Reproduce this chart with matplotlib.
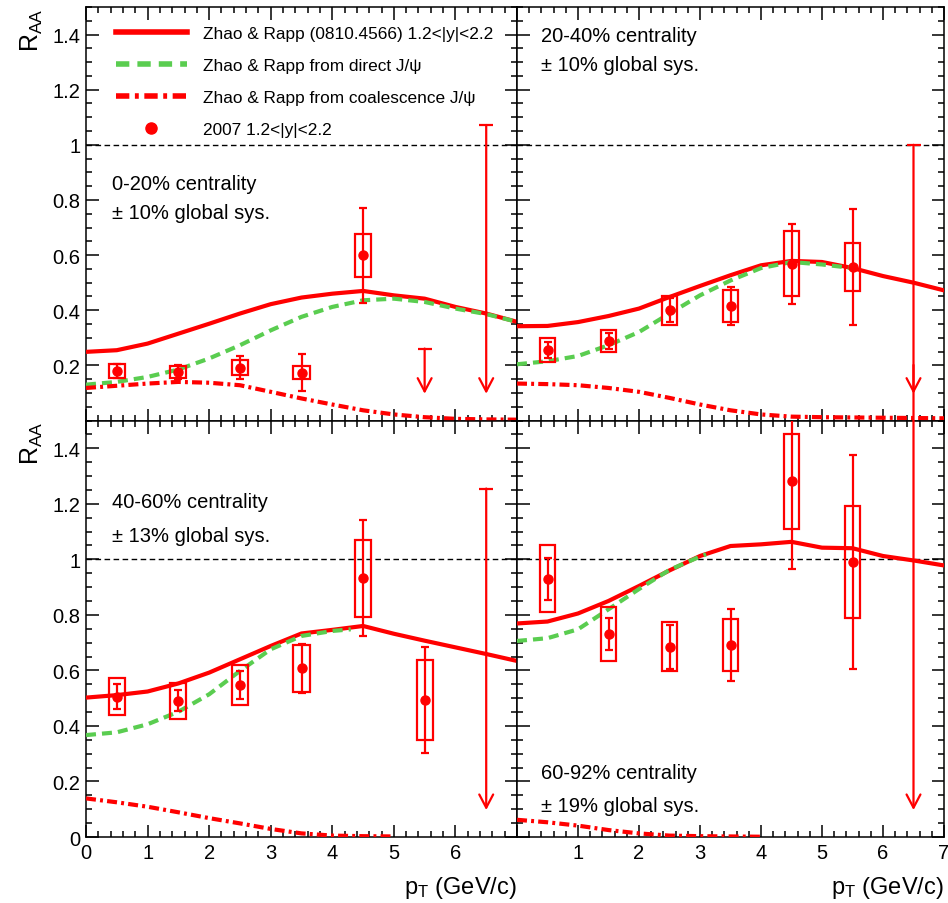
import matplotlib
matplotlib.use("Agg")
import matplotlib.pyplot as plt
from matplotlib.lines import Line2D
from matplotlib.patches import Rectangle
from matplotlib.ticker import MultipleLocator, FuncFormatter

plt.rcParams['font.family'] = ['Liberation Sans', 'DejaVu Sans']
plt.rcParams['mathtext.default'] = 'regular'

RED = '#ff0000'
GREEN = '#5acd50'

# theory grid (GeV/c)
pt_grid = [0, 0.5, 1, 1.5, 2, 2.5, 3, 3.5, 4, 4.5, 5, 5.5, 6, 6.5, 7]
pt_bins = [0.5, 1.5, 2.5, 3.5, 4.5, 5.5]

# 0-20%
total_0_20 = [0.249, 0.255, 0.279, 0.315, 0.351, 0.388, 0.422, 0.446, 0.460, 0.470, 0.454, 0.442, 0.412, 0.388, 0.358]
direct_0_20_pt = pt_grid
direct_0_20 = [0.130, 0.140, 0.158, 0.185, 0.225, 0.273, 0.327, 0.376, 0.412, 0.436, 0.442, 0.430, 0.406, 0.386, 0.358]
coal_0_20_pt = pt_grid
coal_0_20 = [0.118, 0.126, 0.134, 0.140, 0.137, 0.128, 0.104, 0.080, 0.058, 0.037, 0.022, 0.012, 0.006, 0.004, 0.003]
raa_0_20 = [0.180, 0.177, 0.192, 0.174, 0.599]
stat_0_20 = [0.025, 0.025, 0.042, 0.067, 0.171]
sys_0_20 = [0.025, 0.022, 0.027, 0.024, 0.078]
lim_pt_0_20 = [5.5, 6.5]
lim_0_20 = [0.261, 1.072]

# 20-40%
total_20_40 = [0.342, 0.343, 0.357, 0.379, 0.406, 0.448, 0.488, 0.527, 0.563, 0.579, 0.575, 0.553, 0.524, 0.500, 0.472]
direct_20_40_pt = [0, 0.5, 1, 1.5, 2, 2.5, 3, 3.5, 4, 4.5, 5, 5.5]
direct_20_40 = [0.204, 0.215, 0.234, 0.273, 0.321, 0.388, 0.454, 0.508, 0.553, 0.575, 0.566, 0.553]
coal_20_40_pt = pt_grid
coal_20_40 = [0.134, 0.132, 0.128, 0.118, 0.104, 0.082, 0.058, 0.037, 0.022, 0.014, 0.012, 0.011, 0.010, 0.009, 0.008]
raa_20_40 = [0.255, 0.289, 0.400, 0.416, 0.569, 0.557]
stat_20_40 = [0.030, 0.029, 0.044, 0.068, 0.145, 0.210]
sys_20_40 = [0.043, 0.040, 0.052, 0.058, 0.118, 0.088]
lim_pt_20_40 = [6.5]
lim_20_40 = [1.0]

# 40-60%
total_40_60 = [0.502, 0.511, 0.524, 0.553, 0.592, 0.640, 0.688, 0.733, 0.746, 0.760, 0.732, 0.707, 0.683, 0.659, 0.634]
direct_40_60_pt = [0, 0.5, 1, 1.5, 2, 2.5, 3, 3.5, 4, 4.3]
direct_40_60 = [0.367, 0.377, 0.406, 0.451, 0.514, 0.598, 0.676, 0.724, 0.742, 0.748]
coal_40_60_pt = [0, 0.5, 1, 1.5, 2, 2.5, 3, 3.5, 4, 4.5, 5]
coal_40_60 = [0.139, 0.125, 0.109, 0.089, 0.068, 0.049, 0.029, 0.013, 0.005, 0.003, 0.002]
raa_40_60 = [0.505, 0.490, 0.548, 0.607, 0.932, 0.494]
stat_40_60 = [0.045, 0.038, 0.051, 0.088, 0.208, 0.190]
sys_40_60 = [0.067, 0.065, 0.072, 0.084, 0.139, 0.145]
lim_pt_40_60 = [6.5]
lim_40_60 = [1.255]

# 60-92%
total_60_92 = [0.769, 0.776, 0.805, 0.850, 0.904, 0.960, 1.012, 1.048, 1.054, 1.063, 1.042, 1.040, 1.012, 0.996, 0.978]
direct_60_92_pt = [0, 0.5, 1, 1.5, 2, 2.5, 3, 3.1]
direct_60_92 = [0.706, 0.716, 0.748, 0.820, 0.893, 0.962, 1.010, 1.018]
coal_60_92_pt = [0, 0.5, 1, 1.5, 2, 2.5, 3, 3.5, 4]
coal_60_92 = [0.062, 0.053, 0.041, 0.025, 0.013, 0.005, 0.003, 0.002, 0.001]
raa_60_92 = [0.930, 0.730, 0.685, 0.691, 1.282, 0.990]
stat_60_92 = [0.075, 0.057, 0.080, 0.129, 0.318, 0.385]
sys_60_92 = [0.120, 0.097, 0.088, 0.093, 0.171, 0.202]
lim_pt_60_92 = [6.5]
lim_60_92 = [1.7]

limit_floor = 0.097
box_width = 0.26

panels = [
    dict(total=total_0_20, dpt=direct_0_20_pt, direct=direct_0_20, cpt=coal_0_20_pt, coal=coal_0_20,
         raa=raa_0_20, stat=stat_0_20, sys=sys_0_20, lpt=lim_pt_0_20, lim=lim_0_20,
         label=['0-20% centrality', '\u00b1 10% global sys.'], text_xy=(0.06, 0.572, 0.503)),
    dict(total=total_20_40, dpt=direct_20_40_pt, direct=direct_20_40, cpt=coal_20_40_pt, coal=coal_20_40,
         raa=raa_20_40, stat=stat_20_40, sys=sys_20_40, lpt=lim_pt_20_40, lim=lim_20_40,
         label=['20-40% centrality', '\u00b1 10% global sys.'], text_xy=(0.056, 0.932, 0.86)),
    dict(total=total_40_60, dpt=direct_40_60_pt, direct=direct_40_60, cpt=coal_40_60_pt, coal=coal_40_60,
         raa=raa_40_60, stat=stat_40_60, sys=sys_40_60, lpt=lim_pt_40_60, lim=lim_40_60,
         label=['40-60% centrality', '\u00b1 13% global sys.'], text_xy=(0.06, 0.805, 0.724)),
    dict(total=total_60_92, dpt=direct_60_92_pt, direct=direct_60_92, cpt=coal_60_92_pt, coal=coal_60_92,
         raa=raa_60_92, stat=stat_60_92, sys=sys_60_92, lpt=lim_pt_60_92, lim=lim_60_92,
         label=['60-92% centrality', '\u00b1 19% global sys.'], text_xy=(0.056, 0.156, 0.075)),
]

W, H = 948, 904
fig = plt.figure(figsize=(W / 100, H / 100), dpi=100)


def frame(l, r, t, b):
    return [l / W, 1 - b / H, (r - l) / W, (b - t) / H]


rects = [frame(86, 517, 8, 421.5), frame(517, 944, 8, 421.5),
         frame(86, 517, 421.5, 838), frame(517, 944, 421.5, 838)]

dashed = (0, (2.4, 1.45))
dashdot = (0, (2.4, 1.0, 0.7, 1.0))

axes = []
for i, (rect, p) in enumerate(zip(rects, panels)):
    ax = fig.add_axes(rect)
    axes.append(ax)
    ax.set_xlim(0, 7)
    ax.set_ylim(0, 1.5)
    ax.axhline(1, color='k', lw=1.0, ls=(0, (4, 2.5)), zorder=1)

    ax.plot(pt_grid, p['total'], color=RED, lw=3, zorder=3)
    ax.plot(p['dpt'], p['direct'], color=GREEN, lw=3, ls=dashed, zorder=3)
    ax.plot(p['cpt'], p['coal'], color=RED, lw=3, ls=dashdot, zorder=3)

    n = len(p['raa'])
    x = pt_bins[:n]
    for xi, yi, si in zip(x, p['raa'], p['sys']):
        ax.add_patch(Rectangle((xi - box_width / 2, yi - si), box_width, 2 * si,
                               fill=False, ec=RED, lw=1.6, zorder=4))
    ax.errorbar(x, p['raa'], yerr=p['stat'], fmt='o', color=RED, ms=6.5,
                elinewidth=1.6, capsize=3, capthick=1.6, zorder=5)

    for xl, yl in zip(p['lpt'], p['lim']):
        ax.plot([xl], [yl], marker='_', ms=10, mew=1.6, color=RED, zorder=5)
        ax.annotate('', xy=(xl, limit_floor), xytext=(xl, yl),
                    arrowprops=dict(arrowstyle='->,head_length=0.95,head_width=0.5',
                                    color=RED, lw=1.6, shrinkA=0, shrinkB=0,
                                    mutation_scale=10),
                    annotation_clip=False, zorder=5)

    tx, ty1, ty2 = p['text_xy']
    ax.text(tx, ty1, p['label'][0], transform=ax.transAxes, fontsize=14.5, va='center', ha='left')
    ax.text(tx, ty2, p['label'][1], transform=ax.transAxes, fontsize=14.5, va='center', ha='left')

    ax.xaxis.set_major_locator(MultipleLocator(1))
    ax.xaxis.set_minor_locator(MultipleLocator(0.2))
    ax.yaxis.set_major_locator(MultipleLocator(0.2))
    ax.yaxis.set_minor_locator(MultipleLocator(0.05))
    ax.tick_params(which='both', direction='in', top=True, right=True, width=1.1)
    ax.tick_params(which='major', length=9, labelsize=14.5, pad=4)
    ax.tick_params(which='minor', length=4.5)
    for s in ax.spines.values():
        s.set_linewidth(1.1)

    left = i % 2 == 0
    bottom = i >= 2
    if left:
        ymin_label = 0.0 if bottom else 0.1
        ax.yaxis.set_major_formatter(FuncFormatter(
            lambda v, pos, m=ymin_label: ('%g' % round(v, 2)) if v >= m - 1e-9 and v < 1.45 else ''))
        ax.text(-0.125, 1.0, r'$R_{AA}$', transform=ax.transAxes, fontsize=18,
                rotation=90, ha='center', va='top')
    else:
        ax.tick_params(labelleft=False)
    if bottom:
        xmin_label, xmax_label = (0, 6) if left else (1, 7)
        ax.xaxis.set_major_formatter(FuncFormatter(
            lambda v, pos, a=xmin_label, b=xmax_label: ('%d' % round(v)) if a - 1e-9 <= v <= b + 1e-9 else ''))
        ax.set_xlabel(r'$p_{T}$ (GeV/c)', fontsize=17, loc='right', labelpad=9)
    else:
        ax.tick_params(labelbottom=False)

handles = [
    Line2D([], [], color=RED, lw=4),
    Line2D([], [], color=GREEN, lw=4, ls=dashed),
    Line2D([], [], color=RED, lw=4, ls=dashdot),
    Line2D([], [], color=RED, marker='o', ms=8, ls='none'),
]
labels = ['Zhao & Rapp (0810.4566) 1.2<|y|<2.2', 'Zhao & Rapp from direct J/\u03c8',
          'Zhao & Rapp from coalescence J/\u03c8', '2007 1.2<|y|<2.2']
axes[0].legend(handles, labels, loc='upper left', bbox_to_anchor=(0.07, 0.953), frameon=False,
               borderpad=0, borderaxespad=0, fontsize=12.4, handlelength=4.1,
               handletextpad=0.95, labelspacing=0.98, numpoints=1)

fig.savefig('out.png', dpi=100)
